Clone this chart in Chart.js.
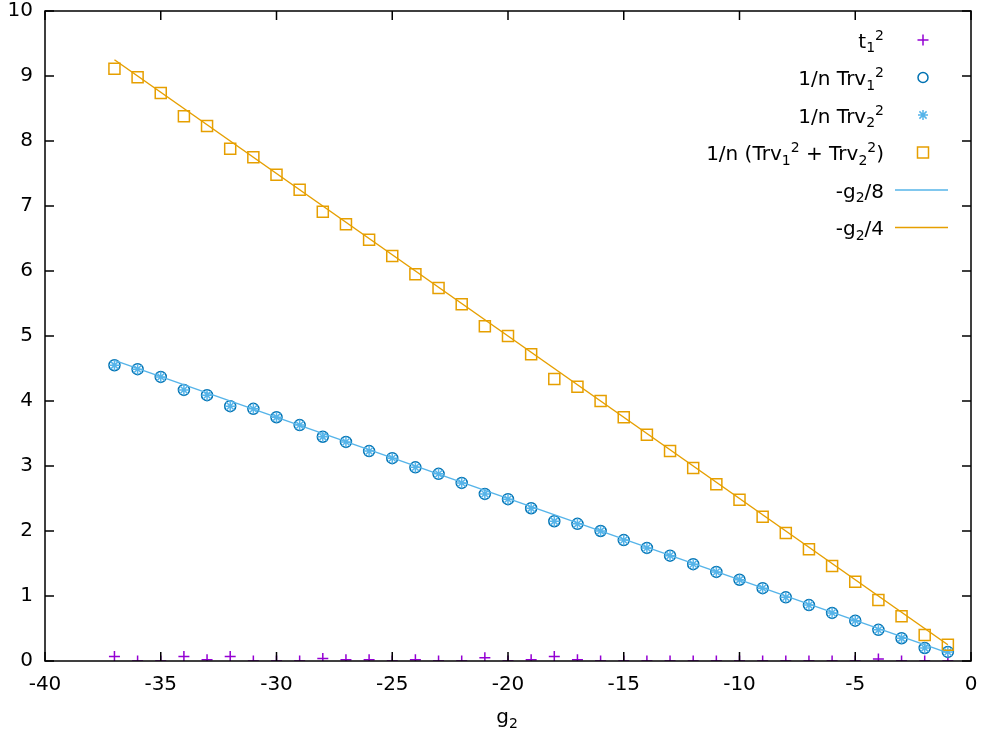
<!DOCTYPE html>
<html>
<head>
<meta charset="utf-8">
<script src="https://cdn.jsdelivr.net/npm/chart.js@4.4.0/dist/chart.umd.min.js"></script>
<style>
  html, body { margin: 0; padding: 0; background: #fff; }
  #wrap { width: 987px; height: 735px; }
</style>
</head>
<body>
<div id="wrap"><canvas id="chart" width="987" height="735"></canvas></div>
<script>
// g2 values (x)
const g2 = [-37, -36, -35, -34, -33, -32, -31, -30, -29, -28, -27, -26, -25, -24, -23, -22, -21, -20, -19,
            -18, -17, -16, -15, -14, -13, -12, -11, -10, -9, -8, -7, -6, -5, -4, -3, -2, -1];
// t1^2
const t1Sq = [0.07, 0, 0, 0.07, 0.02, 0.07, 0, 0, 0, 0.04, 0.02, 0.02, 0, 0.02, 0, 0, 0.05, 0, 0.02,
              0.07, 0.02, 0, 0, 0, 0, 0, 0, 0, 0, 0, 0, 0, 0, 0.03, 0, 0, 0];
// 1/n Trv1^2
const trv1 = [4.55, 4.49, 4.37, 4.17, 4.09, 3.92, 3.88, 3.75, 3.63, 3.45, 3.37, 3.23, 3.12, 2.98, 2.88, 2.74, 2.57, 2.49, 2.35,
              2.15, 2.11, 2.00, 1.86, 1.74, 1.62, 1.49, 1.37, 1.25, 1.12, 0.98, 0.86, 0.74, 0.62, 0.48, 0.35, 0.20, 0.14];
// 1/n Trv2^2
const trv2 = [4.55, 4.49, 4.37, 4.17, 4.09, 3.92, 3.88, 3.75, 3.63, 3.45, 3.37, 3.23, 3.12, 2.98, 2.88, 2.74, 2.57, 2.49, 2.35,
              2.15, 2.11, 2.00, 1.86, 1.74, 1.62, 1.49, 1.37, 1.25, 1.12, 0.98, 0.86, 0.74, 0.62, 0.48, 0.35, 0.20, 0.14];
// 1/n (Trv1^2 + Trv2^2)
const trvSum = [9.11, 8.98, 8.74, 8.38, 8.23, 7.88, 7.75, 7.48, 7.25, 6.91, 6.72, 6.48, 6.23, 5.95, 5.74, 5.49, 5.15, 5.00, 4.72,
                4.34, 4.22, 4.00, 3.75, 3.48, 3.23, 2.97, 2.72, 2.48, 2.22, 1.97, 1.72, 1.46, 1.22, 0.94, 0.69, 0.40, 0.25];
// reference lines, end points
const lineG = [-37, -1];
const lineEighth = [4.625, 0.125];
const lineQuarter = [9.25, 0.25];

const xTicks = [-40, -35, -30, -25, -20, -15, -10, -5, 0];
const yTicks = [0, 1, 2, 3, 4, 5, 6, 7, 8, 9, 10];

const PURPLE = '#9400d3', DBLUE = '#0072b2', LBLUE = '#56b4e9', ORANGE = '#e69f00';
const FONT = '"DejaVu Sans", sans-serif';
const FS = 20;
const FS_SMALL = 14;

const pts = (xs, ys) => xs.map((x, i) => ({ x: x, y: ys[i] }));

// legend entries: text parts (n = normal, b = sub, p = sup)
const legendItems = [
  { parts: [['t', 'n'], ['1', 'b'], ['2', 'p']], kind: 'cross', color: PURPLE },
  { parts: [['1/n Trv', 'n'], ['1', 'b'], ['2', 'p']], kind: 'circle', color: DBLUE },
  { parts: [['1/n Trv', 'n'], ['2', 'b'], ['2', 'p']], kind: 'star', color: LBLUE },
  { parts: [['1/n (Trv', 'n'], ['1', 'b'], ['2', 'p'], [' + Trv', 'n'], ['2', 'b'], ['2', 'p'], [')', 'n']], kind: 'rect', color: ORANGE },
  { parts: [['-g', 'n'], ['2', 'b'], ['/8', 'n']], kind: 'line', color: LBLUE },
  { parts: [['-g', 'n'], ['2', 'b'], ['/4', 'n']], kind: 'line', color: ORANGE }
];

// draws text with sub/superscripts; y is the baseline
function drawRich(ctx, parts, xRef, y, align) {
  let w = 0;
  parts.forEach(p => {
    ctx.font = (p[1] === 'n' ? FS : FS_SMALL) + 'px ' + FONT;
    w += ctx.measureText(p[0]).width;
  });
  let x = align === 'center' ? xRef - w / 2 : xRef - w;
  ctx.textAlign = 'left';
  ctx.textBaseline = 'alphabetic';
  parts.forEach(p => {
    ctx.font = (p[1] === 'n' ? FS : FS_SMALL) + 'px ' + FONT;
    const dy = p[1] === 'b' ? 4.5 : (p[1] === 'p' ? -8 : 0);
    ctx.fillText(p[0], x, y + dy);
    x += ctx.measureText(p[0]).width;
  });
}

function drawMarker(ctx, kind, x, y, color) {
  ctx.save();
  ctx.strokeStyle = color;
  ctx.lineWidth = 1.5;
  ctx.beginPath();
  if (kind === 'cross') {
    ctx.moveTo(x - 5.5, y); ctx.lineTo(x + 5.5, y);
    ctx.moveTo(x, y - 5.5); ctx.lineTo(x, y + 5.5);
  } else if (kind === 'circle') {
    ctx.arc(x, y, 5, 0, Math.PI * 2);
  } else if (kind === 'star') {
    ctx.moveTo(x - 5, y); ctx.lineTo(x + 5, y);
    ctx.moveTo(x, y - 5); ctx.lineTo(x, y + 5);
    ctx.moveTo(x - 3.6, y - 3.6); ctx.lineTo(x + 3.6, y + 3.6);
    ctx.moveTo(x - 3.6, y + 3.6); ctx.lineTo(x + 3.6, y - 3.6);
  } else if (kind === 'rect') {
    ctx.rect(x - 5.5, y - 5.5, 11, 11);
  } else if (kind === 'line') {
    ctx.moveTo(895, y); ctx.lineTo(948, y);
  }
  ctx.stroke();
  ctx.restore();
}

const framePlugin = {
  id: 'frame',
  afterDatasetsDraw(chart) {
    const ctx = chart.ctx, a = chart.chartArea;
    const xs = chart.scales.x, ys = chart.scales.y;
    ctx.save();
    ctx.strokeStyle = '#000';
    ctx.lineWidth = 1.5;
    ctx.strokeRect(a.left, a.top, a.right - a.left, a.bottom - a.top);
    ctx.beginPath();
    xTicks.forEach(v => {
      const px = xs.getPixelForValue(v);
      ctx.moveTo(px, a.bottom); ctx.lineTo(px, a.bottom - 9);
      ctx.moveTo(px, a.top); ctx.lineTo(px, a.top + 9);
    });
    yTicks.forEach(v => {
      const py = ys.getPixelForValue(v);
      ctx.moveTo(a.left, py); ctx.lineTo(a.left + 9, py);
      ctx.moveTo(a.right, py); ctx.lineTo(a.right - 9, py);
    });
    ctx.stroke();

    // tick labels
    ctx.fillStyle = '#000';
    ctx.font = FS + 'px ' + FONT;
    ctx.textBaseline = 'middle';
    ctx.textAlign = 'right';
    yTicks.forEach(v => ctx.fillText(String(v), a.left - 12, ys.getPixelForValue(v)));
    ctx.textAlign = 'center';
    xTicks.forEach(v => ctx.fillText(String(v), xs.getPixelForValue(v), a.bottom + 24));

    // legend
    legendItems.forEach((it, i) => {
      const y = 40 + i * 37.5;
      drawRich(ctx, it.parts, 884, y + 7.5, 'right');
      drawMarker(ctx, it.kind, 923, y, it.color);
    });
    // x axis title
    drawRich(ctx, [['g', 'n'], ['2', 'b']], 507, 723, 'center');
    ctx.restore();
  }
};

new Chart(document.getElementById('chart').getContext('2d'), {
  type: 'scatter',
  data: {
    datasets: [
      {
        label: 't1^2',
        data: pts(g2, t1Sq),
        pointStyle: 'cross',
        pointRadius: 5.5,
        borderColor: PURPLE,
        borderWidth: 1.5,
        showLine: false,
        order: 6
      },
      {
        label: '1/n Trv1^2',
        data: pts(g2, trv1),
        pointStyle: 'circle',
        pointRadius: 5.5,
        borderColor: DBLUE,
        backgroundColor: 'rgba(0,0,0,0)',
        borderWidth: 1.5,
        showLine: false,
        order: 5
      },
      {
        label: '1/n Trv2^2',
        data: pts(g2, trv2),
        pointStyle: 'star',
        pointRadius: 5.5,
        borderColor: LBLUE,
        borderWidth: 1.5,
        showLine: false,
        order: 4
      },
      {
        label: '1/n (Trv1^2 + Trv2^2)',
        data: pts(g2, trvSum),
        pointStyle: 'rect',
        pointRadius: 7.8,
        borderColor: ORANGE,
        backgroundColor: 'rgba(0,0,0,0)',
        borderWidth: 1.5,
        showLine: false,
        order: 3
      },
      {
        label: '-g2/8',
        data: pts(lineG, lineEighth),
        showLine: true,
        pointRadius: 0,
        borderColor: LBLUE,
        borderWidth: 1.5,
        order: 2
      },
      {
        label: '-g2/4',
        data: pts(lineG, lineQuarter),
        showLine: true,
        pointRadius: 0,
        borderColor: ORANGE,
        borderWidth: 1.5,
        order: 1
      }
    ]
  },
  options: {
    responsive: false,
    animation: false,
    events: [],
    layout: { padding: { left: 0, right: 16, top: 11, bottom: 0 } },
    plugins: {
      legend: { display: false },
      tooltip: { enabled: false }
    },
    scales: {
      x: {
        type: 'linear',
        min: -40,
        max: 0,
        afterFit(s) { s.height = 74; },
        grid: { display: false, drawTicks: false },
        border: { display: false },
        ticks: { display: false }
      },
      y: {
        type: 'linear',
        min: 0,
        max: 10,
        afterFit(s) { s.width = 45; },
        grid: { display: false, drawTicks: false },
        border: { display: false },
        ticks: { display: false }
      }
    }
  },
  plugins: [framePlugin]
});
</script>
</body>
</html>
